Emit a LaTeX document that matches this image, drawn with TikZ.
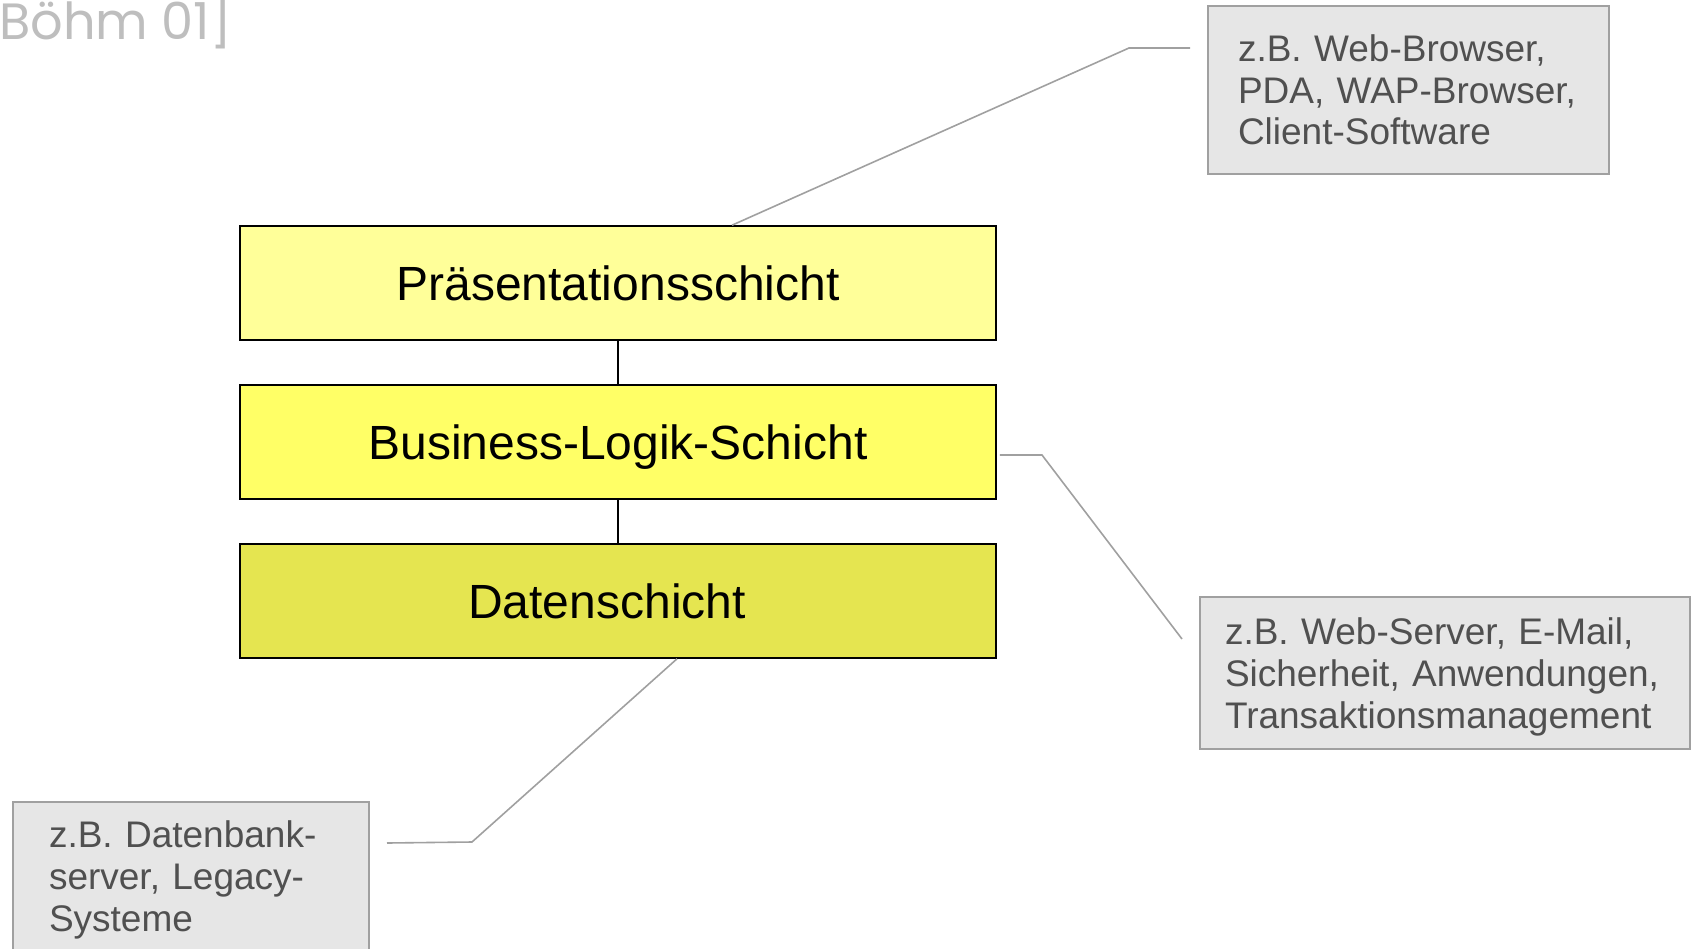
\documentclass[tikz,border=0pt]{standalone}
\usepackage{fontspec}
\setmainfont{Liberation Sans}
\newfontfamily\citefont{Poppins}
\usepackage{tikz}
\usetikzlibrary{arrows,calc,fit,positioning,shapes.geometric,shapes.misc,backgrounds}
\definecolor{presyellow}{HTML}{FFFF99}
\definecolor{bizyellow}{HTML}{FFFF66}
\definecolor{datayellow}{HTML}{E5E550}
\definecolor{notefill}{HTML}{E6E6E6}
\definecolor{noteline}{HTML}{A0A0A0}
\definecolor{notetext}{HTML}{505050}
\definecolor{citegray}{HTML}{BEBEBE}
\frenchspacing

\begin{document}
\begin{tikzpicture}[x=1pt,y=-1pt,
layer/.style={draw=black,line width=1.6pt,minimum width=756pt,minimum height=114pt,inner sep=0pt,text height=35pt,text depth=0pt,font=\fontsize{48}{55}\selectfont},
note/.style={draw=noteline,fill=notefill,line width=1.8pt,align=left,text=notetext,inner ysep=0pt,font=\fontsize{37}{41.6}\selectfont},
link/.style={draw=black,line width=1.4pt},
leader/.style={draw=noteline,line width=1.6pt},]
\useasboundingbox (0,0) rectangle (1692,948);

\node[anchor=base west,text=citegray,font=\citefont\fontsize{51}{55}\selectfont,inner sep=0pt] (cite) at (-1,39) {Böhm 01]};

\node[layer,fill=presyellow] (pres) at (618,283) {Präsentationsschicht};
\node[layer,fill=bizyellow] (biz) at (618,442) {Business-Logik-Schicht};
\node[layer,fill=datayellow] (data) at (618,601) {\hspace*{-22pt}Datenschicht};

\draw[link] (pres.south) -- (biz.north);
\draw[link] (biz.south) -- (data.north);

\node[note,text width=341pt,inner xsep=30pt,minimum height=168pt] (client) at (1408.5,90)
    {z.B. Web-Browser,\\PDA, WAP-Browser,\\Client-Software};
\node[note,text width=440pt,inner xsep=25pt,minimum height=152pt] (server) at (1445,673)
    {z.B. Web-Server, E-Mail,\\Sicherheit, Anwendungen,\\\smash{Transaktionsmanagement}};
\node[note,text width=284pt,inner xsep=36pt,minimum height=148pt] (legacy) at (191,876)
    {z.B. Datenbank-\\server, Legacy-\\\smash{Systeme}};

\coordinate (clientbend) at (1129,48);
\coordinate (clientend) at (1190,48);
\coordinate (serverbend) at (1042,455);
\coordinate (serverend) at (1182,639);
\coordinate (legacybend) at (472,842);
\coordinate (legacyend) at (387,843);

\draw[leader] ($(pres.north)+(114,0)$) -- (clientbend) -- (clientend);
\draw[leader] ($(biz.east)+(3,13)$) -- (serverbend) -- (serverend);
\draw[leader] ($(data.south)+(59,0)$) -- (legacybend) -- (legacyend);
\end{tikzpicture}
\end{document}
